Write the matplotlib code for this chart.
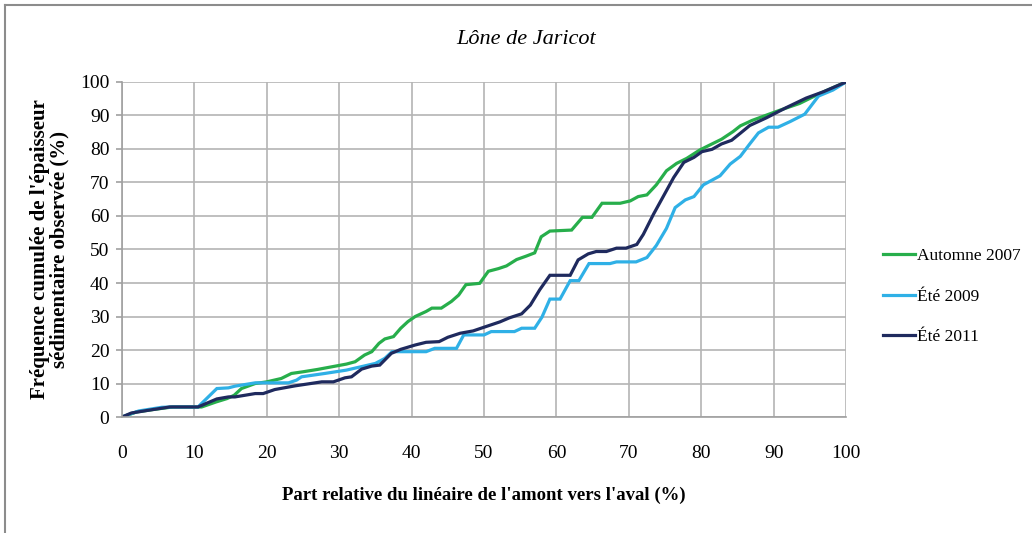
import matplotlib
matplotlib.use('Agg')
import matplotlib.pyplot as plt
from matplotlib.lines import Line2D

plt.rcParams['font.family'] = ['Liberation Serif', 'DejaVu Serif']

# courbes cumulées (part du linéaire en %, fréquence cumulée en %)
x_2007 = [0, 2, 4.5, 7, 11, 13, 14.5, 15.5, 16.5, 18.4, 20, 22, 23.4, 25, 27, 29, 31, 32.2,
          33.5, 34.5, 35.5, 36.3, 37.5, 38.5, 39.5, 40.5, 42, 42.8, 44.1, 45.5, 46.5, 47.5,
          49.4, 50.6, 52, 53.1, 54.5, 55.8, 57, 57.9, 59.1, 62.1, 63.6, 64.9, 66.3, 68.8,
          70.2, 71.3, 72.5, 73.8, 75.2, 76.6, 78, 79.8, 81.2, 82.8, 84.4, 85.4, 87, 89.5,
          90.9, 93.6, 95, 96.4, 100]
y_2007 = [0, 1.5, 2.3, 3, 3, 4.5, 5.5, 6.5, 8.5, 10, 10.5, 11.5, 13, 13.5, 14.2, 15, 15.8, 16.5,
          18.5, 19.5, 22, 23.3, 24, 26.5, 28.5, 30, 31.5, 32.5, 32.5, 34.5, 36.4, 39.5,
          39.9, 43.5, 44.3, 45.1, 47, 48, 49, 53.8, 55.5, 55.8, 59.6, 59.6, 63.8, 63.8,
          64.5, 65.8, 66.3, 69.3, 73.5, 75.7, 77.2, 79.7, 81.2, 82.9, 85.2, 86.9, 88.5, 90.5,
          91.6, 93.6, 95.1, 96.6, 100]

x_2009 = [0, 2.3, 5.5, 7, 10.5, 13.1, 14.7, 15.6, 18.4, 23, 24.1, 24.8, 28, 31, 33.6, 35,
          36.3, 37.3, 42, 43.2, 46.2, 47.2, 50, 51, 54.2, 55.2, 57, 58, 59.1, 60.5, 61.9,
          63.1, 64.5, 67.4, 68.3, 71, 72.5, 73.8, 75.2, 76.4, 77.8, 79, 80.3, 82.6, 84,
          85.4, 86.7, 87.9, 89.3, 90.6, 92.3, 94.3, 96.2, 98.2, 100]
y_2009 = [0, 1.8, 2.9, 3, 3, 8.5, 8.7, 9.2, 10.2, 10.2, 11, 12, 13, 14, 15.3, 16,
          17.5, 19.5, 19.5, 20.5, 20.5, 24.5, 24.5, 25.5, 25.5, 26.5, 26.5, 29.8, 35.2, 35.2, 40.7,
          40.7, 45.8, 45.8, 46.3, 46.3, 47.6, 51.2, 56.3, 62.5, 64.8, 65.8, 69.3, 72, 75.5,
          77.8, 81.5, 84.8, 86.5, 86.5, 88.2, 90.4, 95.8, 97.6, 100]

x_2011 = [0, 1.3, 3.6, 6.6, 10.5, 13.1, 14.7, 15.6, 18.4, 19.5, 21.1, 23.9, 27.6, 29.2, 30.8,
          31.7, 33.1, 34.5, 35.6, 37.2, 38.5, 40.5, 42, 43.8, 45, 46.7, 48.5, 50, 52.2, 53.5,
          55.2, 56.4, 57.7, 59.1, 61.9, 63, 64.4, 65.5, 66.9, 68.3, 69.6, 71.1, 72, 73.4,
          74.8, 76.2, 77.6, 79, 80.1, 81.5, 82.8, 84.2, 85.4, 86.7, 89, 91.7, 94.5, 96.9, 100]
y_2011 = [0, 1.2, 2, 3, 3, 5.4, 6, 6, 7, 7, 8.2, 9.3, 10.5, 10.5, 11.7,
          12, 14.3, 15.2, 15.5, 19, 20.2, 21.5, 22.3, 22.5, 23.8, 25, 25.7, 26.8, 28.4, 29.6,
          30.8, 33.4, 38, 42.3, 42.3, 46.9, 48.7, 49.4, 49.4, 50.4, 50.4, 51.5, 54.5, 60.5,
          66, 71.5, 76, 77.5, 79.2, 79.9, 81.5, 82.6, 84.7, 87, 89.3, 92.3, 95.2, 97.1, 100]

series = [('Automne 2007', x_2007, y_2007, '#27ae4b'),
          ('Été 2009', x_2009, y_2009, '#2fb0e6'),
          ('Été 2011', x_2011, y_2011, '#1f2a5e')]

fig = plt.figure(figsize=(10.32, 5.33), dpi=100)
ax = fig.add_axes([0.1182, 0.2176, 0.7016, 0.6286])

for label, xs, ys, col in series:
    ax.plot(xs, ys, color=col, lw=2.3, label=label, solid_joinstyle='miter')

ax.set_xlim(0, 100)
ax.set_ylim(0, 100)
ax.set_xticks(range(0, 101, 10))
ax.set_yticks(range(0, 101, 10))
ax.grid(True, color='#b4b4b4', lw=1.2)
ax.set_axisbelow(True)
for s in ['top', 'right']:
    ax.spines[s].set_visible(False)
for s in ['left', 'bottom']:
    ax.spines[s].set_color('#a0a0a0')
    ax.spines[s].set_linewidth(1.2)
ax.tick_params(axis='y', length=4, color='#a0a0a0', width=1.2, pad=5, labelsize=14)
ax.tick_params(axis='x', length=0, pad=20, labelsize=14)

ax.set_xlabel("Part relative du linéaire de l'amont vers l'aval (%)",
              fontsize=13.5, fontweight='bold', labelpad=18)
ax.set_ylabel("Fréquence cumulée de l'épaisseur\nsédimentaire observée (%)",
              fontsize=15, fontweight='bold', labelpad=8, linespacing=0.95)

fig.text(0.51, 0.925, 'Lône de Jaricot', fontsize=16, style='italic',
         ha='center', va='center')

fig.legend(loc='center left', bbox_to_anchor=(0.84, 0.443), frameon=False,
           fontsize=12.5, handlelength=1.9, handletextpad=0.1, labelspacing=1.4)

# cadre gris autour du graphique
fig.add_artist(Line2D([0.005, 1], [0.991, 0.991], color='#8c8c8c', lw=1.5,
                      transform=fig.transFigure))
fig.add_artist(Line2D([0.005, 0.005], [0, 0.991], color='#8c8c8c', lw=1.5,
                      transform=fig.transFigure))

fig.savefig('out.png', dpi=100)
